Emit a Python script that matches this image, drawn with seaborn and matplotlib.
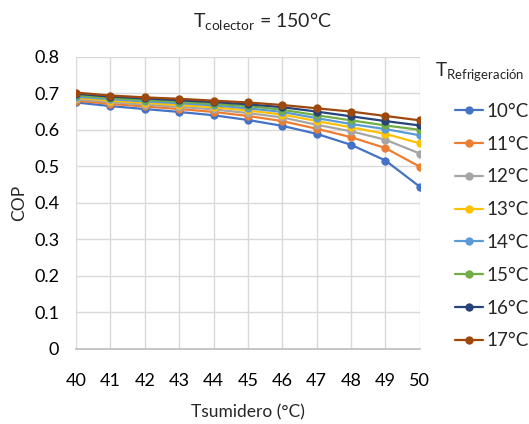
import matplotlib
matplotlib.use("Agg")
import matplotlib.pyplot as plt
import seaborn as sns
import pandas as pd

t_sumidero = [40, 41, 42, 43, 44, 45, 46, 47, 48, 49, 50]
series_labels = ["10°C", "11°C", "12°C", "13°C", "14°C", "15°C", "16°C", "17°C"]
cop_10 = [0.675, 0.665, 0.657, 0.649, 0.640, 0.627, 0.611, 0.589, 0.559, 0.516, 0.444]
cop_11 = [0.680, 0.671, 0.664, 0.657, 0.649, 0.638, 0.624, 0.603, 0.580, 0.550, 0.499]
cop_12 = [0.684, 0.676, 0.669, 0.663, 0.656, 0.646, 0.634, 0.614, 0.596, 0.573, 0.535]
cop_13 = [0.688, 0.680, 0.674, 0.668, 0.662, 0.653, 0.642, 0.624, 0.607, 0.589, 0.563]
cop_14 = [0.691, 0.684, 0.678, 0.673, 0.667, 0.659, 0.649, 0.632, 0.616, 0.602, 0.585]
cop_15 = [0.695, 0.687, 0.682, 0.677, 0.671, 0.665, 0.655, 0.640, 0.626, 0.612, 0.600]
cop_16 = [0.699, 0.691, 0.686, 0.681, 0.676, 0.670, 0.662, 0.650, 0.637, 0.624, 0.612]
cop_17 = [0.702, 0.694, 0.689, 0.685, 0.680, 0.675, 0.668, 0.659, 0.650, 0.638, 0.626]
all_series = [cop_10, cop_11, cop_12, cop_13, cop_14, cop_15, cop_16, cop_17]
colors = ["#4472C4", "#ED7D31", "#A5A5A5", "#FFC000", "#5B9BD5", "#70AD47", "#264478", "#9E480E"]

rows = []
for lab, vals in zip(series_labels, all_series):
    for x, v in zip(t_sumidero, vals):
        rows.append({"T": x, "COP": v, "serie": lab})
df = pd.DataFrame(rows)

sns.set_theme(style="white")
plt.rcParams["font.family"] = ["Lato", "DejaVu Sans"]
plt.rcParams["mathtext.fontset"] = "custom"
plt.rcParams["mathtext.rm"] = "Lato"

fig = plt.figure(figsize=(5.29, 4.24), dpi=100)
ax = fig.add_axes([0.1437, 0.177, 0.650, 0.689])

sns.lineplot(data=df, x="T", y="COP", hue="serie", hue_order=series_labels,
             palette=colors, marker="o", markersize=6, markeredgewidth=0,
             linewidth=1.6, ax=ax, legend=True)

ax.set_xlim(40, 50)
ax.set_ylim(0, 0.8)
ax.set_xticks(t_sumidero)
ax.set_yticks([0, 0.1, 0.2, 0.3, 0.4, 0.5, 0.6, 0.7, 0.8])
ax.set_yticklabels(["0", "0.1", "0.2", "0.3", "0.4", "0.5", "0.6", "0.7", "0.8"])
ax.grid(True, color="#D9D9D9", linewidth=1)
for s in ["top", "right", "left"]:
    ax.spines[s].set_visible(False)
ax.spines["bottom"].set_color("#BFBFBF")
ax.tick_params(axis="x", labelsize=13, colors="#000000", length=0, pad=17)
ax.tick_params(axis="y", labelsize=13, colors="#000000", length=0, pad=12)
ax.set_xlabel("Tsumidero (°C)", fontsize=12.5, labelpad=11)
ax.set_ylabel("COP", fontsize=12.5, labelpad=5)

fig.text(0.497, 0.948, r"T$_{\mathrm{colector}}$ = 150°C", ha="center", va="center", fontsize=14)
fig.text(435 / 529, 1 - 72 / 424, r"T$_{\mathrm{Refrigeración}}$", ha="left", va="center", fontsize=13.5)

handles, labels = ax.get_legend_handles_labels()
leg = ax.legend(handles, labels,
                loc="upper left", bbox_to_anchor=(455 / 529, 1 - 103 / 424), bbox_transform=fig.transFigure,
                frameon=False, fontsize=13.5, labelspacing=0.84,
                handlelength=1.5, handletextpad=0.15, borderaxespad=0, borderpad=0)

fig.savefig("out.png", dpi=100)
